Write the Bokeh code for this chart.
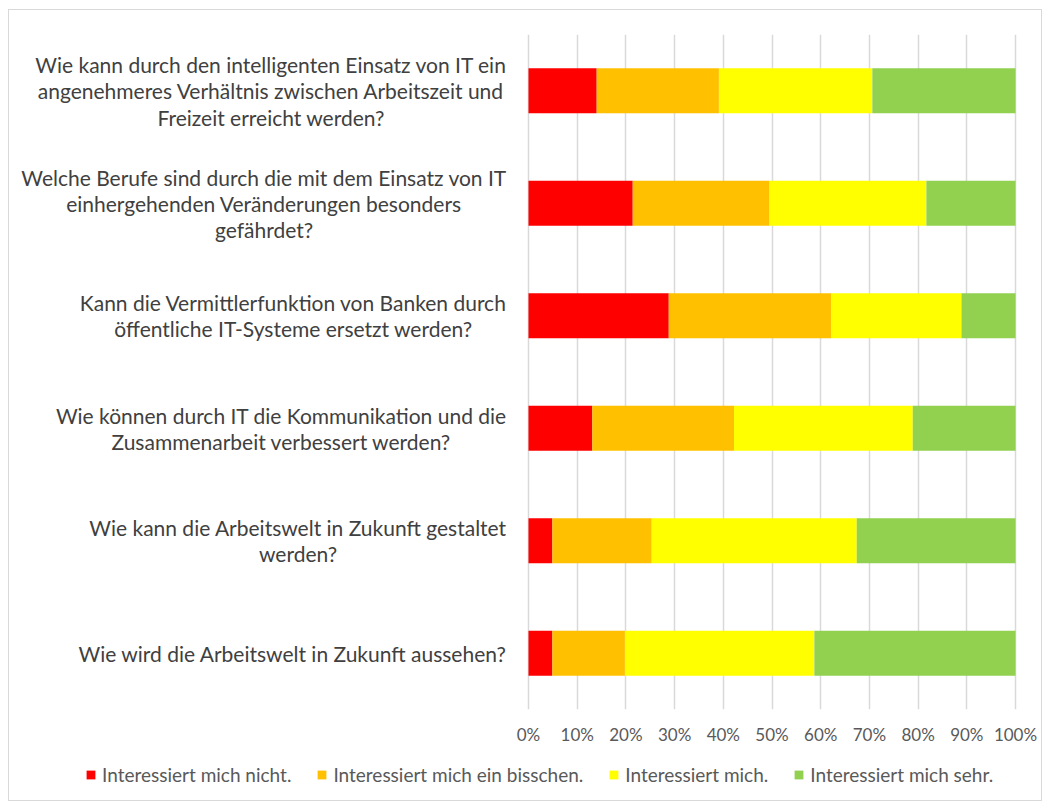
import glob, os
from bokeh.plotting import figure
from bokeh.layouts import column
from bokeh.models import (ColumnDataSource, FactorRange, Range1d, Label, Legend,
                          NumeralTickFormatter, FixedTicker)
from bokeh.embed import file_html
from bokeh.resources import INLINE

questions = [
    "Wie kann durch den intelligenten Einsatz von IT ein\nangenehmeres Verhältnis zwischen Arbeitszeit und\nFreizeit erreicht werden?",
    "Welche Berufe sind durch die mit dem Einsatz von IT\neinhergehenden Veränderungen besonders\ngefährdet?",
    "Kann die Vermittlerfunktion von Banken durch\nöffentliche IT-Systeme ersetzt werden?",
    "Wie können durch IT die Kommunikation und die\nZusammenarbeit verbessert werden?",
    "Wie kann die Arbeitswelt in Zukunft gestaltet\nwerden?",
    "Wie wird die Arbeitswelt in Zukunft aussehen?",
]
series = ["Interessiert mich nicht.", "Interessiert mich ein bisschen.",
          "Interessiert mich.", "Interessiert mich sehr."]
nicht = [0.140, 0.214, 0.288, 0.131, 0.049, 0.049]
bisschen = [0.251, 0.281, 0.334, 0.291, 0.204, 0.149]
mich = [0.315, 0.322, 0.267, 0.367, 0.421, 0.389]
sehr = [0.294, 0.183, 0.111, 0.211, 0.326, 0.413]
colors = ["#FF0000", "#FFC000", "#FFFF00", "#92D050"]
tick_values = [i / 10 for i in range(11)]

FONT = "Lato"
LABEL_SIZE = 21
LEFT_PX, BAR_PX, RIGHT_PX = 519, 487, 26   # label column, 0..100% span, right margin
TOTAL_W = LEFT_PX + BAR_PX + RIGHT_PX
keys = ["s0", "s1", "s2", "s3"]
source = ColumnDataSource(dict(q=questions, s0=nicht, s1=bisschen, s2=mich, s3=sehr))
factors = list(reversed(questions))

p = figure(y_range=FactorRange(factors=factors),
           x_range=Range1d(-LEFT_PX / BAR_PX, 1 + RIGHT_PX / BAR_PX),
           frame_width=TOTAL_W, frame_height=675,
           min_border_left=0, min_border_right=0, min_border_top=24, min_border_bottom=50,
           output_backend="svg", toolbar_location=None)

renderers = p.hbar_stack(keys, y="q", height=0.4, color=colors, line_color=None,
                         source=source)

p.yaxis.visible = False
p.ygrid.visible = False
p.outline_line_color = None
p.xaxis.ticker = FixedTicker(ticks=tick_values)
p.xaxis.formatter = NumeralTickFormatter(format="0%")
p.xaxis.axis_line_color = None
p.xaxis.major_tick_line_color = None
p.xaxis.minor_tick_line_color = None
p.xaxis.major_tick_out = 0
p.xaxis.major_tick_in = 0
p.xaxis.minor_tick_out = 0
p.xaxis.major_label_standoff = 14
p.xaxis.major_label_text_font = FONT
p.xaxis.major_label_text_font_size = "17px"
p.xaxis.major_label_text_color = "#595959"
p.xgrid.ticker = FixedTicker(ticks=tick_values)
p.xgrid.grid_line_color = "#d9d9d9"
p.xgrid.grid_line_width = 1.5

# measure text widths to right-align label blocks with centered lines
def _font_path():
    for pat in ["Lato-Regular.ttf", "Lato-Reg*.ttf"]:
        for root in ["/usr/share/fonts", "/usr/local/share/fonts", os.path.expanduser("~/.fonts")]:
            hits = glob.glob(os.path.join(root, "**", pat), recursive=True)
            if hits:
                return hits[0]
    return None

try:
    from PIL import ImageFont
    _fp = _font_path()
    _font = ImageFont.truetype(_fp, LABEL_SIZE) if _fp else None
except Exception:
    _font = None

def text_width(s):
    if _font is not None:
        return _font.getlength(s)
    return len(s) * LABEL_SIZE * 0.5

GAP = 22
for q in questions:
    w = max(text_width(line) for line in q.split("\n"))
    y_pos = factors.index(q) + 0.5   # synthetic categorical coordinate
    p.add_layout(Label(x=-(GAP + w / 2) / BAR_PX, y=y_pos, text=q,
                       text_align="center", text_baseline="middle",
                       text_font=FONT, text_font_size=f"{LABEL_SIZE}px",
                       text_color="#404040", text_line_height=1.05))

# legend strip: its own small figure so the legend lies inside a frame.
# Its proxy bars reuse the first question's values, placed outside the strip's y range.
lg = figure(x_range=Range1d(0, 1), y_range=Range1d(0, 1),
            frame_width=TOTAL_W, frame_height=41,
            min_border_left=0, min_border_right=0, min_border_top=0, min_border_bottom=0,
            output_backend="svg", toolbar_location=None)
lg.axis.visible = False
lg.grid.visible = False
lg.outline_line_color = None
proxy = ColumnDataSource(dict(y=[-1.0], s0=nicht[:1], s1=bisschen[:1],
                              s2=mich[:1], s3=sehr[:1]))
legend_renderers = lg.hbar_stack(keys, y="y", height=0.4, color=colors,
                                 line_color=None, source=proxy)
legend = Legend(items=[(s, [r]) for s, r in zip(series, legend_renderers)],
                orientation="horizontal", location=(76, 14),
                glyph_width=11, glyph_height=11, label_standoff=6, spacing=25,
                padding=0, margin=0, border_line_color=None, background_fill_alpha=0,
                label_text_font=FONT, label_text_font_size="19px",
                label_text_color="#595959")
lg.add_layout(legend, "center")

layout = column(p, lg, spacing=0,
                styles={"border": "1px solid #d9d9d9", "margin-left": "8px", "margin-top": "9px"})

open("out.html", "w").write(file_html(layout, INLINE))
